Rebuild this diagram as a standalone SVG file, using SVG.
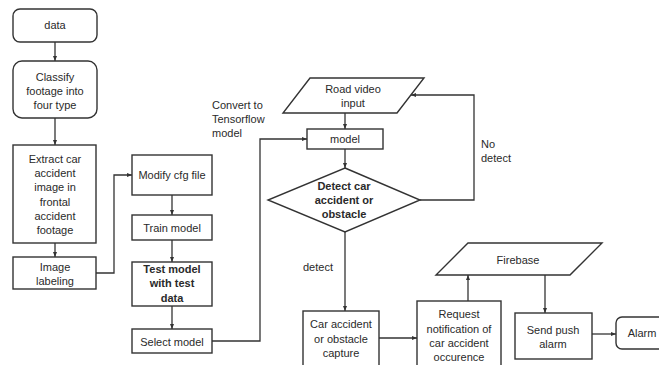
<svg xmlns="http://www.w3.org/2000/svg" width="659" height="365" viewBox="0 0 659 365">
<defs>
<marker id="ah" viewBox="0 0 10 10" refX="10" refY="5" markerWidth="5" markerHeight="5" orient="auto" markerUnits="userSpaceOnUse">
<path d="M0,1 L10,5 L0,9 z" fill="#333"/>
</marker>
<style>
.n{fill:#fff;stroke:#333;stroke-width:1.4}
.t{font-family:"Liberation Sans",Arial,sans-serif;font-size:11px;fill:#2a2a2a;text-anchor:middle}
.b{font-weight:bold}
.l{font-family:"Liberation Sans",Arial,sans-serif;font-size:11px;fill:#2a2a2a}
.c{fill:none;stroke:#333;stroke-width:1.3;marker-end:url(#ah)}
</style>
</defs>
<rect width="659" height="365" fill="#fff"/>
<g id="connectors">
<path class="c" d="M55,42 V61"/>
<path class="c" d="M55,118 V145"/>
<path class="c" d="M55,243 V257"/>
<path class="c" d="M96,273 H114 V175 H132"/>
<path class="c" d="M172,195 V215"/>
<path class="c" d="M172,240 V262"/>
<path class="c" d="M172,306 V329"/>
<path class="c" d="M212,341 H260 V139 H307"/>
<path class="c" d="M345,113 V129"/>
<path class="c" d="M345,149 V168"/>
<path class="c" d="M345,232 V311"/>
<path class="c" d="M420,200 H474 V95 H411"/>
<path class="c" d="M379,338 H417"/>
<path class="c" d="M468,301 V275"/>
<path class="c" d="M545,275 V313"/>
<path class="c" d="M592,334 H616"/>
</g>
<g id="labels">
<text class="l" x="212" y="109">Convert to</text>
<text class="l" x="212" y="123">Tensorflow</text>
<text class="l" x="212" y="137">model</text>
<text class="l" x="303" y="271">detect</text>
<text class="l" x="481" y="148">No</text>
<text class="l" x="481" y="162">detect</text>
</g>
<g id="n-data">
<rect class="n" x="13" y="9" width="84" height="33" rx="7"/>
<text class="t" x="55" y="29">data</text>
</g>
<g id="n-classify">
<rect class="n" x="13" y="61" width="84" height="57" rx="9"/>
<text class="t" x="55" y="81">Classify</text>
<text class="t" x="55" y="95">footage into</text>
<text class="t" x="55" y="109">four type</text>
</g>
<g id="n-extract">
<rect class="n" x="13" y="145" width="83" height="98"/>
<text class="t" x="55" y="163">Extract car</text>
<text class="t" x="55" y="177">accident</text>
<text class="t" x="55" y="191">image in</text>
<text class="t" x="55" y="206">frontal</text>
<text class="t" x="55" y="220">accident</text>
<text class="t" x="55" y="234">footage</text>
</g>
<g id="n-labeling">
<rect class="n" x="13" y="257" width="83" height="32"/>
<text class="t" x="55" y="271">Image</text>
<text class="t" x="55" y="285">labeling</text>
</g>
<g id="n-modify">
<rect class="n" x="132" y="155" width="80" height="40"/>
<text class="t" x="172" y="179">Modify cfg file</text>
</g>
<g id="n-train">
<rect class="n" x="132" y="215" width="80" height="25"/>
<text class="t" x="172" y="232">Train model</text>
</g>
<g id="n-test">
<rect class="n" x="132" y="262" width="80" height="44"/>
<text class="t b" x="172" y="273">Test model</text>
<text class="t b" x="172" y="287">with test</text>
<text class="t b" x="172" y="302">data</text>
</g>
<g id="n-select">
<rect class="n" x="132" y="329" width="80" height="24"/>
<text class="t" x="172" y="346">Select model</text>
</g>
<g id="n-road">
<polygon class="n" points="310,78 424,78 397,113 283,113"/>
<text class="t" x="353" y="93">Road video</text>
<text class="t" x="353" y="107">input</text>
</g>
<g id="n-model">
<rect class="n" x="307" y="129" width="76" height="20"/>
<text class="t" x="345" y="143">model</text>
</g>
<g id="n-detect">
<polygon class="n" points="345,168 420,200 345,232 268,200"/>
<text class="t b" x="344" y="190">Detect car</text>
<text class="t b" x="344" y="204">accident or</text>
<text class="t b" x="344" y="218">obstacle</text>
</g>
<g id="n-capture">
<rect class="n" x="303" y="311" width="76" height="60"/>
<text class="t" x="341" y="328">Car accident</text>
<text class="t" x="341" y="343">or obstacle</text>
<text class="t" x="341" y="357">capture</text>
</g>
<g id="n-request">
<rect class="n" x="417" y="301" width="84" height="70"/>
<text class="t" x="459" y="318">Request</text>
<text class="t" x="459" y="333">notification of</text>
<text class="t" x="459" y="347">car accident</text>
<text class="t" x="459" y="361">occurence</text>
</g>
<g id="n-firebase">
<polygon class="n" points="468,243 602,243 570,275 436,275"/>
<text class="t" x="518" y="264">Firebase</text>
</g>
<g id="n-push">
<rect class="n" x="515" y="313" width="77" height="46"/>
<text class="t" x="553" y="334">Send push</text>
<text class="t" x="553" y="348">alarm</text>
</g>
<g id="n-alarm">
<rect class="n" x="616" y="317" width="60" height="32" rx="6"/>
<text class="t" x="642" y="337">Alarm</text>
</g>
</svg>
